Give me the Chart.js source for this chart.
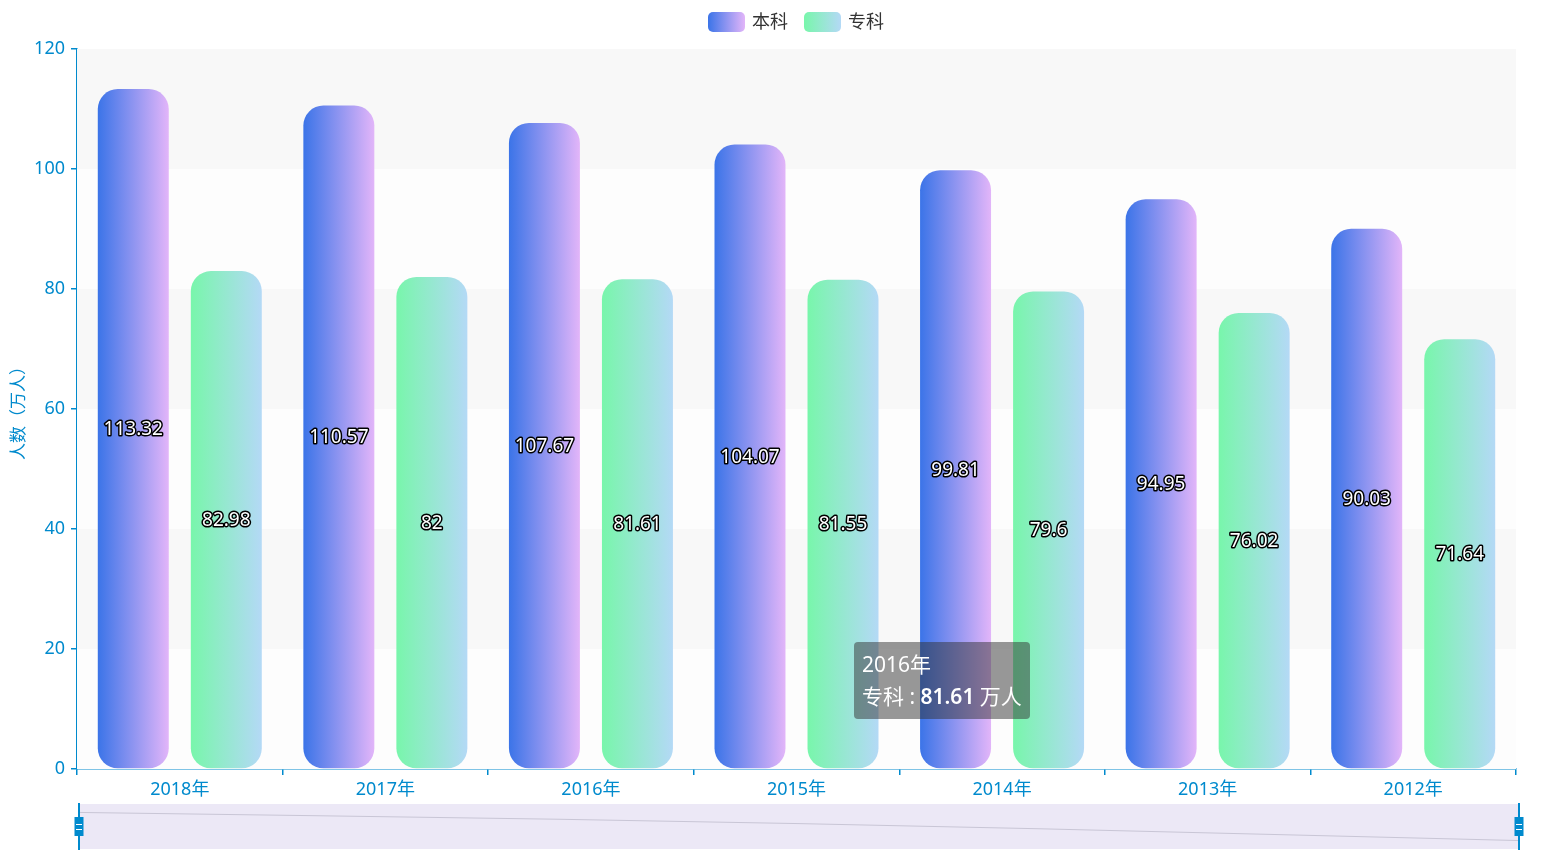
<!DOCTYPE html>
<html>
<head>
<meta charset="utf-8">
<script src="https://cdn.jsdelivr.net/npm/chart.js@4.4.1/dist/chart.umd.min.js"></script>
<style>
  html, body { margin: 0; padding: 0; background: #fff; }
  #wrap { width: 1568px; height: 859px; }
</style>
</head>
<body>
<div id="wrap"><canvas id="chart" width="1568" height="859"></canvas></div>
<script>
// data
const years       = ["2018年", "2017年", "2016年", "2015年", "2014年", "2013年", "2012年"];
const seriesNames = ["本科", "专科"];
const benke       = [113.32, 110.57, 107.67, 104.07, 99.81, 94.95, 90.03];
const zhuanke     = [82.98, 82, 81.61, 81.55, 79.6, 76.02, 71.64];
const yTickStep   = 20;
const yMax        = 120;
const unitLabel   = "万人";
const yTitle      = "人数（万人）";
const tipIndex    = 2;   // tooltip shows 2016年
const tipSeries   = 1;   // ... for 专科

const axisColor = "#008acd";
const fontCJK   = "'Noto Sans', 'Noto Sans CJK SC', sans-serif";
const gradStops = [["#3b74e8", "#e2b5f9"], ["#78f6ab", "#b4d9f6"]];

// horizontal gradient per bar, built once elements have their pixels
const barGradient = {
  id: "barGradient",
  afterDatasetsUpdate(chart) {
    const ctx = chart.ctx;
    chart.data.datasets.forEach((ds, di) => {
      chart.getDatasetMeta(di).data.forEach(el => {
        const left = el.x - el.width / 2;
        const g = ctx.createLinearGradient(left, 0, left + el.width, 0);
        g.addColorStop(0, gradStops[di][0]);
        g.addColorStop(1, gradStops[di][1]);
        el.options.backgroundColor = g;
      });
    });
  }
};

// alternating split areas between y ticks
const splitArea = {
  id: "splitArea",
  beforeDatasetsDraw(chart) {
    const { ctx, chartArea, scales: { y } } = chart;
    const ticks = y.ticks.map(t => t.value).sort((a, b) => b - a);
    ctx.save();
    for (let i = 0; i < ticks.length - 1; i++) {
      const top = y.getPixelForValue(ticks[i]);
      const bot = y.getPixelForValue(ticks[i + 1]);
      ctx.fillStyle = i % 2 === 0 ? "#f8f8f8" : "#fdfdfd";
      ctx.fillRect(chartArea.left, top, chartArea.right - chartArea.left, bot - top);
    }
    ctx.restore();
  }
};

// value labels in the middle of each bar
const barLabels = {
  id: "barLabels",
  afterDatasetsDraw(chart) {
    const ctx = chart.ctx;
    ctx.save();
    ctx.font = "19px " + fontCJK;
    ctx.textAlign = "center";
    ctx.textBaseline = "middle";
    ctx.lineJoin = "round";
    chart.data.datasets.forEach((ds, di) => {
      chart.getDatasetMeta(di).data.forEach((el, i) => {
        const txt = String(ds.data[i]);
        const cy = (el.y + el.base) / 2 + 1;
        ctx.lineWidth = 3;
        ctx.strokeStyle = "#000";
        ctx.strokeText(txt, el.x, cy);
        ctx.fillStyle = "#fff";
        ctx.fillText(txt, el.x, cy);
      });
    });
    ctx.restore();
  }
};

function roundRect(ctx, x, y, w, h, r) {
  ctx.beginPath();
  ctx.moveTo(x + r, y);
  ctx.arcTo(x + w, y, x + w, y + h, r);
  ctx.arcTo(x + w, y + h, x, y + h, r);
  ctx.arcTo(x, y + h, x, y, r);
  ctx.arcTo(x, y, x + w, y, r);
  ctx.closePath();
}

// legend with gradient swatches at the top
const topLegend = {
  id: "topLegend",
  afterDraw(chart) {
    const ctx = chart.ctx;
    ctx.save();
    ctx.font = "18px " + fontCJK;
    ctx.textBaseline = "middle";
    let x = 708;
    const cy = 22;
    chart.data.datasets.forEach((ds, di) => {
      const g = ctx.createLinearGradient(x, 0, x + 37, 0);
      g.addColorStop(0, gradStops[di][0]);
      g.addColorStop(1, gradStops[di][1]);
      ctx.fillStyle = g;
      roundRect(ctx, x, cy - 10, 37, 20, 5);
      ctx.fill();
      ctx.fillStyle = "#333";
      ctx.fillText(ds.label, x + 44, cy + 1);
      x += 44 + ctx.measureText(ds.label).width + 16;
    });
    ctx.restore();
  }
};

// dataZoom-like slider under the axis with data shadow of first series
const slider = {
  id: "slider",
  afterDraw(chart) {
    const ctx = chart.ctx;
    const L = 79, R = 1519, T = 804, B = 849;
    ctx.save();
    ctx.fillStyle = "#ece8f6";
    ctx.fillRect(L, T, R - L, B - T);

    const vals = chart.data.datasets[0].data;
    let mn = Math.min(...vals), mx = Math.max(...vals);
    const off = (mx - mn) * 0.3;
    mn -= off; mx += off;
    ctx.beginPath();
    vals.forEach((v, i) => {
      const px = L + (R - L) * i / (vals.length - 1);
      const py = B - (v - mn) / (mx - mn) * (B - T);
      i === 0 ? ctx.moveTo(px, py) : ctx.lineTo(px, py);
    });
    ctx.strokeStyle = "#c9c6d6";
    ctx.lineWidth = 1;
    ctx.stroke();

    [L, R].forEach(hx => {
      ctx.strokeStyle = axisColor;
      ctx.lineWidth = 2;
      ctx.beginPath();
      ctx.moveTo(hx, T - 1);
      ctx.lineTo(hx, B + 1);
      ctx.stroke();
      ctx.fillStyle = axisColor;
      ctx.fillRect(hx - 4.5, 817, 9, 19);
      ctx.strokeStyle = "#fff";
      ctx.lineWidth = 1;
      ctx.beginPath();
      ctx.moveTo(hx - 3, 824.5); ctx.lineTo(hx + 3, 824.5);
      ctx.moveTo(hx - 3, 829.5); ctx.lineTo(hx + 3, 829.5);
      ctx.stroke();
    });
    ctx.restore();
  }
};

// fixed tooltip as in the reference snapshot
const staticTip = {
  id: "staticTip",
  afterDraw(chart) {
    const ctx = chart.ctx;
    const ds = chart.data.datasets[tipSeries];
    const x = chart.chartArea.left + 777, y = chart.chartArea.top + 593;
    const w = 176, h = 77;
    ctx.save();
    ctx.fillStyle = "rgba(50,50,50,0.5)";
    roundRect(ctx, x, y, w, h, 4);
    ctx.fill();
    ctx.fillStyle = "#fff";
    ctx.textBaseline = "alphabetic";
    ctx.font = "21px " + fontCJK;
    ctx.fillText(chart.data.labels[tipIndex], x + 8, y + 30);
    let tx = x + 8;
    const part1 = ds.label + " : ";
    ctx.fillText(part1, tx, y + 62);
    tx += ctx.measureText(part1).width;
    ctx.font = "600 21px " + fontCJK;
    const val = String(ds.data[tipIndex]);
    ctx.fillText(val, tx, y + 62);
    tx += ctx.measureText(val).width;
    ctx.font = "21px " + fontCJK;
    ctx.fillText(" " + unitLabel, tx, y + 62);
    ctx.restore();
  }
};

new Chart(document.getElementById("chart"), {
  type: "bar",
  data: {
    labels: years,
    datasets: [
      {
        label: seriesNames[0],
        data: benke,
        backgroundColor: () => gradStops[0][0],
        borderRadius: 20,
        borderSkipped: false,
        categoryPercentage: 0.905,
        barPercentage: 0.763
      },
      {
        label: seriesNames[1],
        data: zhuanke,
        backgroundColor: () => gradStops[1][0],
        borderRadius: 20,
        borderSkipped: false,
        categoryPercentage: 0.905,
        barPercentage: 0.763
      }
    ]
  },
  options: {
    responsive: false,
    animation: false,
    events: [],
    layout: { padding: { top: 49, left: 0, right: 52, bottom: 60 } },
    plugins: {
      legend: { display: false },
      tooltip: { enabled: false }
    },
    scales: {
      x: {
        afterFit: s => { s.height = 30; },
        border: { color: axisColor, width: 1.5 },
        grid: { drawOnChartArea: false, drawTicks: true, tickLength: 6, color: axisColor, lineWidth: 1.5, offset: true },
        ticks: { color: axisColor, font: { size: 18, family: fontCJK }, padding: 4 }
      },
      y: {
        min: 0,
        max: yMax,
        afterFit: s => { s.width = 77; },
        border: { color: axisColor, width: 1.5 },
        grid: { drawOnChartArea: false, drawTicks: true, tickLength: 6, color: axisColor, lineWidth: 1.5 },
        ticks: { stepSize: yTickStep, color: axisColor, font: { size: 18, family: fontCJK }, padding: 6 },
        title: {
          display: true,
          text: yTitle,
          color: axisColor,
          font: { size: 17, family: fontCJK },
          padding: { top: 9, bottom: 0 }
        }
      }
    }
  },
  plugins: [barGradient, splitArea, barLabels, topLegend, slider, staticTip]
});
</script>
</body>
</html>
